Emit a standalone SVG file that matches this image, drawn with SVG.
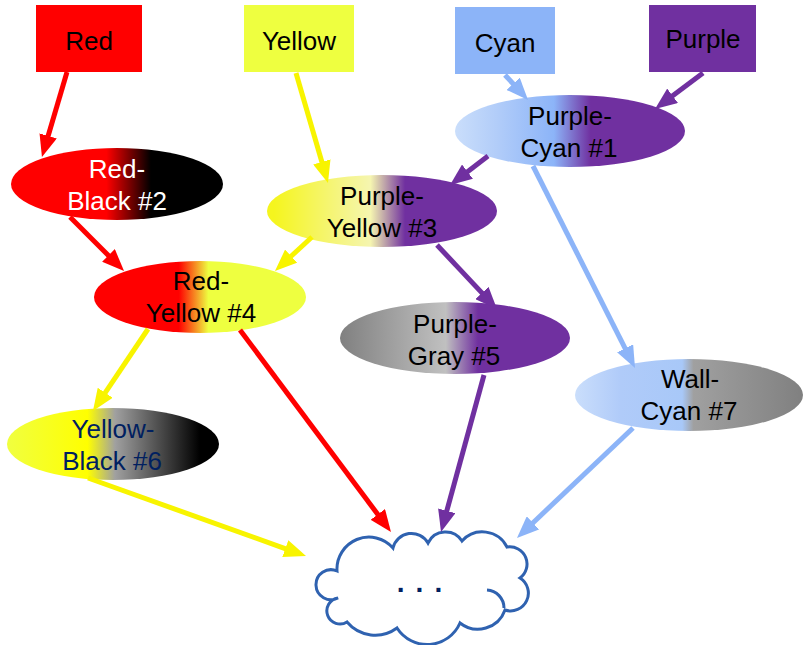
<svg xmlns="http://www.w3.org/2000/svg" width="803" height="645" viewBox="0 0 803 645">
<style>
text{font-family:"Liberation Sans",Arial,sans-serif;font-size:26px;text-anchor:middle;fill:#000}
.w{fill:#fff}
.n{fill:#002060}
.c{fill:none;stroke-width:5}
.r{stroke:#ff0000}.y{stroke:#f8f400}.b{stroke:#8cb4f8}.p{stroke:#7030a0}
</style>
<defs>
<marker id="ar" markerUnits="userSpaceOnUse" markerWidth="22" markerHeight="18" refX="2" refY="9" orient="auto"><path d="M0,0 L22,9 L0,18 z" fill="#ff0000"/></marker>
<marker id="ay" markerUnits="userSpaceOnUse" markerWidth="22" markerHeight="18" refX="2" refY="9" orient="auto"><path d="M0,0 L22,9 L0,18 z" fill="#f8f400"/></marker>
<marker id="ab" markerUnits="userSpaceOnUse" markerWidth="22" markerHeight="18" refX="2" refY="9" orient="auto"><path d="M0,0 L22,9 L0,18 z" fill="#8cb4f8"/></marker>
<marker id="ap" markerUnits="userSpaceOnUse" markerWidth="22" markerHeight="18" refX="2" refY="9" orient="auto"><path d="M0,0 L22,9 L0,18 z" fill="#7030a0"/></marker>
<linearGradient id="g2"><stop offset="0.45" stop-color="#ff0000"/><stop offset="0.66" stop-color="#000"/></linearGradient>
<linearGradient id="g1"><stop offset="0" stop-color="#cadefb"/><stop offset="0.18" stop-color="#b2cdf9"/><stop offset="0.43" stop-color="#8cb4f8"/><stop offset="0.59" stop-color="#7030a0"/></linearGradient>
<linearGradient id="g3"><stop offset="0.03" stop-color="#f5f51e"/><stop offset="0.45" stop-color="#f5f5b0"/><stop offset="0.6" stop-color="#7030a0"/></linearGradient>
<linearGradient id="g4"><stop offset="0.40" stop-color="#ff0000"/><stop offset="0.54" stop-color="#eeff40"/></linearGradient>
<linearGradient id="g5"><stop offset="0" stop-color="#808080"/><stop offset="0.46" stop-color="#c0c0c0"/><stop offset="0.6" stop-color="#7030a0"/></linearGradient>
<linearGradient id="g6"><stop offset="0" stop-color="#f0ff40"/><stop offset="0.38" stop-color="#ffff00"/><stop offset="0.51" stop-color="#a0a0a0"/><stop offset="0.91" stop-color="#000"/></linearGradient>
<linearGradient id="g7"><stop offset="0" stop-color="#cadefb"/><stop offset="0.2" stop-color="#b0cbf9"/><stop offset="0.47" stop-color="#a8c8f8"/><stop offset="0.52" stop-color="#a0a0a0"/><stop offset="1" stop-color="#808080"/></linearGradient>
</defs>
<rect width="803" height="645" fill="#fff"/>

<g id="red"><rect x="36" y="5" width="106" height="67" fill="#ff0000"/><text x="89" y="50">Red</text></g>
<g id="yellow"><rect x="244" y="5" width="110" height="67" fill="#eeff40"/><text x="299" y="50">Yellow</text></g>
<g id="cyan"><rect x="455" y="7" width="100" height="67" fill="#8cb4f8"/><text x="505" y="52">Cyan</text></g>
<g id="purple"><rect x="649" y="5" width="107" height="67" fill="#7030a0"/><text x="703" y="48">Purple</text></g>

<g id="n2"><ellipse cx="117" cy="184" rx="106" ry="36" fill="url(#g2)"/><text class="w" x="117" y="178">Red-</text><text class="w" x="117" y="210">Black #2</text></g>
<g id="n1"><ellipse cx="570" cy="131" rx="115" ry="36" fill="url(#g1)"/><text x="570" y="125">Purple-</text><text x="569" y="157">Cyan #1</text></g>
<g id="n3"><ellipse cx="382" cy="211" rx="115" ry="36" fill="url(#g3)"/><text x="382" y="205">Purple-</text><text x="382" y="237">Yellow #3</text></g>
<g id="n4"><ellipse cx="200" cy="297" rx="106" ry="36" fill="url(#g4)"/><text x="201" y="290">Red-</text><text x="201" y="322">Yellow #4</text></g>
<g id="n5"><ellipse cx="455" cy="338" rx="115" ry="36" fill="url(#g5)"/><text x="455" y="333">Purple-</text><text x="454" y="365">Gray #5</text></g>
<g id="n6"><ellipse cx="113" cy="444" rx="106" ry="36" fill="url(#g6)"/><text class="n" x="113" y="438">Yellow-</text><text class="n" x="112" y="470">Black #6</text></g>
<g id="n7"><ellipse cx="689" cy="395" rx="114" ry="36" fill="url(#g7)"/><text x="690" y="388">Wall-</text><text x="689" y="420">Cyan #7</text></g>

<g id="cloud">
<path d="M338,598 A15,15 0 1 1 337,571 A32,32 0 0 1 393,548 A19,19 0 0 1 428,543 A19.5,19.5 0 0 1 462,541 A27.5,27.5 0 0 1 507,547 A17.3,17.3 0 0 1 520,578 A17.8,17.8 0 0 1 505,610 A28.8,28.8 0 0 1 460,623 A35.8,35.8 0 0 1 397,628 A36.8,36.8 0 0 1 347,622 A13.1,13.1 0 1 1 338,598 Z" fill="#fff" stroke="#2f62b0" stroke-width="3"/>
<path d="M487,590 A18,18 0 0 1 504,608" fill="none" stroke="#2f62b0" stroke-width="3"/>
<text class="n" x="425" y="592" style="font-size:28px;font-weight:bold;letter-spacing:11px">...</text>
</g>

<g id="connectors">
<line class="c r" x1="67" y1="72" x2="47.6" y2="137.8" marker-end="url(#ar)"/>
<line class="c y" x1="296" y1="73" x2="322.4" y2="163.8" marker-end="url(#ay)"/>
<line class="c b" x1="505" y1="75" x2="514.5" y2="85.3" marker-end="url(#ab)"/>
<line class="c p" x1="703" y1="73" x2="671" y2="97" marker-end="url(#ap)"/>
<line class="c p" x1="488" y1="156" x2="465.9" y2="172.9" marker-end="url(#ap)"/>
<line class="c b" x1="533" y1="166" x2="626" y2="350.1" marker-end="url(#ab)"/>
<line class="c r" x1="70" y1="217" x2="109.9" y2="256.9" marker-end="url(#ar)"/>
<line class="c y" x1="312" y1="237" x2="289.7" y2="257.5" marker-end="url(#ay)"/>
<line class="c p" x1="437" y1="245" x2="483.3" y2="294.4" marker-end="url(#ap)"/>
<line class="c y" x1="148" y1="329" x2="104.1" y2="394.4" marker-end="url(#ay)"/>
<line class="c r" x1="240" y1="330" x2="379" y2="516" marker-end="url(#ar)"/>
<line class="c p" x1="484" y1="375" x2="446.3" y2="512.7" marker-end="url(#ap)"/>
<line class="c b" x1="633" y1="428" x2="531.5" y2="524.2" marker-end="url(#ab)"/>
<line class="c y" x1="88" y1="478" x2="287.2" y2="549.3" marker-end="url(#ay)"/>
</g>
</svg>
